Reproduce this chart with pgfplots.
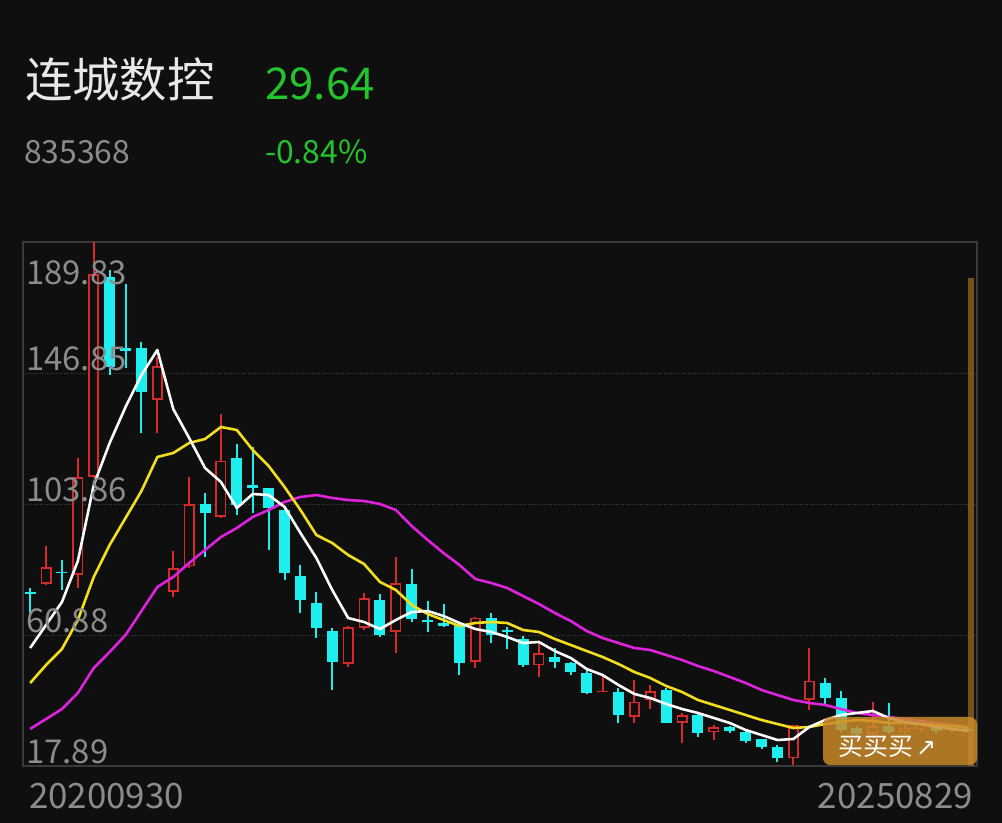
\documentclass[border=0pt]{standalone}
\usepackage{fontspec}
\setmainfont{Noto Sans CJK SC}
\newfontfamily\arrowfont{DejaVu Sans}
\usepackage{pgfplots}
\usepackage{pgfplotstable}
\pgfplotsset{compat=1.18}

\definecolor{bgc}{RGB}{15,15,15}
\definecolor{framec}{RGB}{58,58,58}
\definecolor{gridc}{RGB}{62,62,62}
\definecolor{upc}{RGB}{212,42,42}
\definecolor{downc}{RGB}{30,238,238}
\definecolor{ma5c}{RGB}{250,250,250}
\definecolor{ma10c}{RGB}{242,222,28}
\definecolor{ma20c}{RGB}{222,34,222}
\definecolor{txtc}{RGB}{232,232,232}
\definecolor{grayc}{RGB}{140,140,140}
\definecolor{greenc}{RGB}{36,196,46}
\definecolor{btnc}{RGB}{204,138,42}
\definecolor{barc}{RGB}{128,90,32}

% monthly candles, index 0 = 2020-09
\pgfplotstableread{
i o h l c
1 77.5 90.1 77.3 83.1
3 80.6 118.9 76.2 112.8
4 112.8 189.8 112.5 179.4
8 138.0 152.2 127.2 149.1
9 75.1 88.4 73.3 82.8
10 83.4 112.8 83.0 103.9
12 99.7 133.4 99.2 118.1
20 51.4 63.8 50.5 63.6
21 63.1 74.8 62.5 72.9
23 62.0 86.6 55.1 78.0
28 52.1 66.8 50.0 66.6
32 50.9 58.1 47.2 54.9
36 42.2 47.4 42.2 42.5
38 34.1 46.1 32.1 39.0
39 39.6 44.5 36.5 42.6
41 32.1 35.2 25.3 34.6
43 29.1 31.3 26.4 30.6
48 20.4 31.5 18.2 31.3
49 39.6 56.5 36.3 45.9
53 28.5 38.9 27.8 31.0
55 29.0 32.0 28.0 30.5
56 30.0 33.0 29.0 31.5
}\upcandles

\pgfplotstableread{
i o h l c
0 75.1 76.4 67.3 74.2
2 81.7 85.6 75.6 81.1
5 178.5 180.6 146.1 148.9
6 155.0 176.0 148.4 153.9
7 155.0 156.9 127.2 140.6
11 103.9 107.4 86.6 101.0
13 118.9 123.5 100.3 103.5
14 110.1 122.7 100.8 109.0
15 109.0 109.2 88.8 102.4
16 101.9 102.2 78.9 81.1
17 80.2 83.8 68.0 72.4
18 71.5 74.9 59.8 63.1
19 62.3 63.1 42.8 52.1
22 72.5 74.3 60.1 60.9
24 77.6 82.4 65.2 66.0
25 65.8 72.0 62.0 65.0
26 64.7 71.0 63.5 63.8
27 64.2 64.5 47.8 51.8
29 66.4 68.2 58.3 60.9
30 62.5 63.5 56.3 62.0
31 59.5 60.5 50.3 51.0
33 53.6 56.5 50.0 52.1
34 51.6 52.1 47.8 48.8
35 48.3 49.4 41.4 41.7
37 42.3 43.4 32.1 34.6
40 42.8 43.4 31.9 32.1
42 34.6 35.2 27.5 28.6
44 30.6 31.1 28.6 29.5
45 29.1 29.4 25.3 26.2
46 26.7 26.8 23.4 24.2
47 24.2 24.8 19.3 20.4
50 45.2 46.7 37.9 40.1
51 40.1 42.6 29.0 29.7
52 30.5 31.0 27.5 28.5
54 31.0 38.6 28.5 29.0
57 31.5 32.0 28.5 29.5
58 30.0 31.0 29.0 29.9
59 30.0 30.5 29.0 29.64
}\downcandles

\pgfplotstableread{
i ma5 ma10 ma20
0 56.61 45.12 30.03
1 64.16 51.03 33.31
2 71.70 56.28 36.59
3 85.16 65.80 41.84
4 110.09 79.91 50.05
5 123.88 90.41 55.30
6 135.69 99.27 60.88
7 146.19 108.13 68.75
8 154.39 119.28 76.63
9 135.03 120.59 79.91
10 125.52 123.88 84.50
11 115.67 125.19 88.77
12 111.08 129.13 93.03
13 102.55 128.14 95.99
14 107.14 121.58 99.59
15 106.81 116.33 101.89
16 102.88 109.44 104.52
17 94.34 101.89 106.16
18 86.14 93.69 106.81
19 75.64 91.06 105.83
20 66.45 87.13 105.17
21 65.14 84.17 104.84
22 62.84 78.27 103.86
23 65.80 75.64 101.89
24 68.42 70.72 96.64
25 68.75 67.77 92.05
26 67.11 65.80 87.78
27 64.81 63.83 83.84
28 62.84 64.81 79.25
29 61.86 65.14 77.94
30 60.22 64.81 76.30
31 58.25 62.52 73.67
32 58.58 61.86 71.05
33 55.62 59.56 68.09
34 53.33 57.59 65.47
35 49.72 55.62 62.19
36 47.75 53.66 59.89
37 44.47 51.36 58.25
38 41.52 48.73 56.61
39 40.20 46.77 55.95
40 38.23 44.14 54.31
41 36.59 42.17 52.67
42 35.28 39.55 50.70
43 33.64 37.91 49.06
44 32.00 36.27 47.09
45 29.70 34.62 45.12
46 28.06 32.98 42.83
47 26.42 31.67 41.19
48 26.75 30.36 39.55
49 30.69 30.69 38.56
50 32.98 31.67 37.91
51 34.62 32.33 36.59
52 35.28 32.98 35.28
53 35.94 32.66 34.62
54 33.64 32.00 33.97
55 32.33 32.00 33.31
56 31.67 31.67 32.66
57 30.69 31.34 32.00
58 30.03 31.02 31.34
59 29.37 30.36 30.69
}\maTable

\pgfplotsset{
  wick/.style={draw=none, mark=none, forget plot,
    error bars/.cd, y dir=both, y explicit, error mark=none,
    error bar style={draw=#1, line width=2bp}},
  body/.style 2 args={draw=none, mark=none, forget plot,
    error bars/.cd, y dir=both, y explicit, error mark=none,
    error bar style={draw=#1, line width=#2}},
}

\begin{document}
\begin{tikzpicture}[x=1bp,y=1bp]
\useasboundingbox (0,0) rectangle (1002,823);
\fill[bgc] (0,0) rectangle (1002,823);

% header
\node[anchor=base west, inner sep=0, text=txtc, font=\fontsize{47.5}{47.5}\selectfont] at (25,725) {连城数控};
\node[anchor=base west, inner sep=0, text=greenc, font=\fontsize{44}{44}\selectfont] at (265,723) {29.64};
\node[anchor=base west, inner sep=0, text=grayc, font=\fontsize{32}{32}\selectfont] at (24,659) {835368};
\node[anchor=base west, inner sep=0, text=greenc, font=\fontsize{32}{32}\selectfont] at (265,659) {-0.84\%};

\begin{axis}[
  at={(23bp,57bp)}, anchor=south west,
  scale only axis, width=954bp, height=524bp,
  xmin=-0.45, xmax=59.55, ymin=17.89, ymax=189.83,
  axis line style={draw=framec, line width=1.3bp},
  xtick=\empty,
  ytick={60.88,103.86,146.85}, yticklabels={},
  major tick length=0pt,
  ymajorgrids,
  grid style={draw=gridc, dotted, line width=0.9bp},
]
% highlight of the last month
\addplot[draw=barc, line width=6bp, opacity=0.9, forget plot] coordinates {(59.15,17.89) (59.15,178)};

% wicks
\addplot[wick=upc] table[x=i, y expr={(\thisrow{h}+\thisrow{l})/2}, y error expr={(\thisrow{h}-\thisrow{l})/2}] {\upcandles};
\addplot[wick=downc] table[x=i, y expr={(\thisrow{h}+\thisrow{l})/2}, y error expr={(\thisrow{h}-\thisrow{l})/2}] {\downcandles};

% bodies
\addplot[body={downc}{11bp}] table[x=i, y expr={(\thisrow{o}+\thisrow{c})/2}, y error expr={max(abs(\thisrow{o}-\thisrow{c})/2,0.3)}] {\downcandles};
\addplot[body={upc}{11bp}] table[x=i, y expr={(\thisrow{o}+\thisrow{c})/2}, y error expr={max(abs(\thisrow{c}-\thisrow{o})/2,0.3)}] {\upcandles};
\addplot[body={bgc}{7.4bp}] table[x=i, y expr={(\thisrow{o}+\thisrow{c})/2}, y error expr={max(abs(\thisrow{c}-\thisrow{o})/2-0.6,0)}] {\upcandles};

% moving averages
\addplot[ma20c, line width=2.6bp, no marks, line join=round] table[x=i, y=ma20] {\maTable};
\addplot[ma10c, line width=2.6bp, no marks, line join=round] table[x=i, y=ma10] {\maTable};
\addplot[ma5c, line width=2.6bp, no marks, line join=round] table[x=i, y=ma5] {\maTable};
\end{axis}

% price labels inside the plot
\begin{scope}[every node/.style={anchor=base west, inner sep=0, text=grayc, font=\fontsize{33}{33}\selectfont}]
\node at (26,538) {189.83};
\node at (26,452) {146.85};
\node at (26,321) {103.86};
\node at (26,190) {60.88};
\node at (26,59) {17.89};
\end{scope}

% dates
\node[anchor=base west, inner sep=0, text=grayc, font=\fontsize{35}{35}\selectfont] at (29,14) {20200930};
\node[anchor=base east, inner sep=0, text=grayc, font=\fontsize{35}{35}\selectfont] at (973,14) {20250829};

% button
\fill[btnc, opacity=0.84, rounded corners=7bp] (823,58) rectangle (977,106);
\node[anchor=base west, inner sep=0, text=white, font=\fontsize{25}{25}\selectfont] at (838,67) {买买买};
\node[anchor=base west, inner sep=0, text=white, font=\arrowfont\fontsize{24}{24}\selectfont] at (916,67) {↗};
\end{tikzpicture}
\end{document}
